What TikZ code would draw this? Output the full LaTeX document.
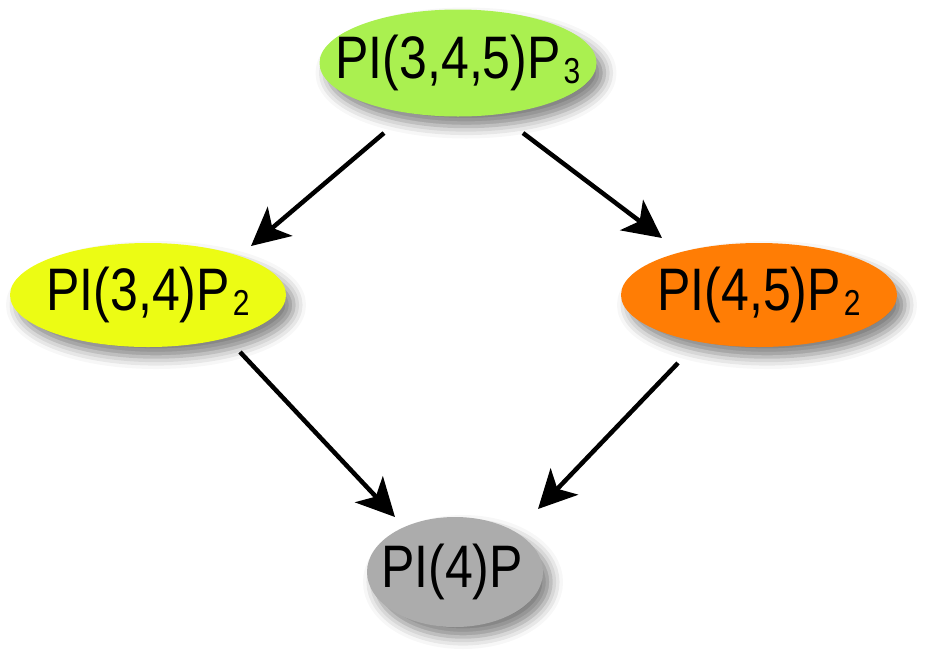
\documentclass[tikz,border=0pt]{standalone}
\usepackage{fontspec}
\setmainfont{Liberation Sans}
\usetikzlibrary{shapes.geometric,arrows.meta,shadows.blur}
\definecolor{cgreen}{RGB}{170,240,80}
\definecolor{cyellow}{RGB}{236,252,20}
\definecolor{corange}{RGB}{255,125,5}
\definecolor{cgray}{RGB}{172,172,172}
\tikzset{
  blob/.style={ellipse, inner sep=0pt, draw=none,
    blur shadow={shadow xshift=8pt, shadow yshift=-10pt, shadow blur radius=12pt, shadow opacity=50}},
  lbl/.style={inner sep=0pt, font=\fontsize{50}{56}\selectfont},
  conn/.style={line width=4.5pt, -{Stealth[length=38pt, width=38pt, inset=10pt]}}
}
\newcommand{\tall}[1]{\scalebox{1}[1.2]{#1}}
\newcommand{\sbx}[1]{\hspace{3pt}\raisebox{-4.5pt}{\fontsize{30}{33}\selectfont #1}}
\begin{document}
\begin{tikzpicture}[x=1pt,y=-1pt]
\useasboundingbox (0,0) rectangle (931,662);
\node[blob, fill=cgreen, minimum width=277pt, minimum height=107pt] (p345) at (458,63) {};
\node[blob, fill=cyellow, minimum width=276pt, minimum height=104pt] (p34) at (148,295) {};
\node[blob, fill=corange, minimum width=276pt, minimum height=104pt] (p45) at (759,295) {};
\node[blob, fill=cgray, minimum width=176pt, minimum height=110pt] (p4) at (455,572) {};
\node[lbl] (t345) at (p345.center) {\tall{PI(3,4,5)P\sbx{3}}};
\node[lbl] (t34) at (p34.center) {\tall{PI(3,4)P\sbx{2}}};
\node[lbl] (t45) at (p45.center) {\tall{PI(4,5)P\sbx{2}}};
\node[lbl] (t4) at ([xshift=-3pt]p4.center) {\tall{PI(4)P}};
\coordinate (a1s) at (384,133);
\coordinate (a1e) at (251,246);
\coordinate (a2s) at (523,133);
\coordinate (a2e) at (662,238);
\coordinate (a3s) at (240,352);
\coordinate (a3e) at (395,517);
\coordinate (a4s) at (678,363);
\coordinate (a4e) at (538,509);
\draw[conn] (a1s) -- (a1e);
\draw[conn] (a2s) -- (a2e);
\draw[conn] (a3s) -- (a3e);
\draw[conn] (a4s) -- (a4e);
\end{tikzpicture}
\end{document}
